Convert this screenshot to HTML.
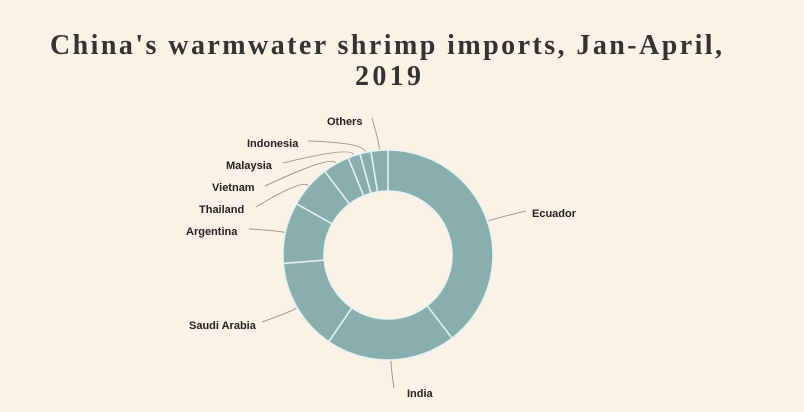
<!DOCTYPE html>
<html><head><meta charset="utf-8"><style>
body{margin:0;background:#fcf1e7;}
svg{display:block}
.t{font-family:"Liberation Serif",serif;font-weight:bold;font-size:28px;fill:#333}
.l{font-family:"Liberation Sans",sans-serif;font-weight:bold;font-size:11px;fill:#222}
</style></head><body>
<svg width="804" height="412" xmlns="http://www.w3.org/2000/svg">
<rect width="804" height="412" fill="#fcf1e7"/>
<text class="t" x="50" y="54" textLength="672" lengthAdjust="spacing">China's warmwater shrimp imports, Jan-April,</text>
<text class="t" x="388" y="85" text-anchor="middle" textLength="66" lengthAdjust="spacing">2019</text>
<g id="slices"></g><g id="leaders"></g><g id="labels"></g>
</svg>
<script>
const categories=["Ecuador","India","Saudi Arabia","Argentina","Thailand","Vietnam","Malaysia","Indonesia","Others"];
const shares=[39.6,20.0,14.2,9.4,6.6,4.1,1.9,1.7,2.6];
// layout only: label text position [x,y,anchor] and leader start point
const labelPos=[[532,217,"start",526,211],[407,397,"start",394,388],[189,329,"start",262,322],[186,235,"start",249,229],[199,213,"start",256,207],[212,191,"start",265,186],[226,169,"start",283,163],[247,147,"start",308,141],[327,125,"start",372,118]];
const cx=388,cy=255,R=105,r=64,NS="http://www.w3.org/2000/svg";
const total=shares.reduce((a,b)=>a+b,0);
function pt(a,rad){return [cx+rad*Math.sin(a),cy-rad*Math.cos(a)];}
function s(p){return p[0].toFixed(2)+' '+p[1].toFixed(2);}
let acc=0;
const gs=document.getElementById('slices'),gl=document.getElementById('leaders'),gt=document.getElementById('labels');
shares.forEach((v,i)=>{
 const a0=acc/total*2*Math.PI;acc+=v;const a1=acc/total*2*Math.PI;
 const p0=pt(a0,R),p1=pt(a1,R),q1=pt(a1,r),q0=pt(a0,r);const big=(a1-a0)>Math.PI?1:0;
 const p=document.createElementNS(NS,'path');
 p.setAttribute('d',`M ${s(p0)} A ${R} ${R} 0 ${big} 1 ${s(p1)} L ${s(q1)} A ${r} ${r} 0 ${big} 0 ${s(q0)} Z`);
 p.setAttribute('fill','#88afae');p.setAttribute('stroke','#e6f3f2');p.setAttribute('stroke-width','1.5');
 
 
 gs.appendChild(p);
 const am=(a0+a1)/2,e=pt(am,R+1),m=pt(am,R+10),lp=labelPos[i];
 const ln=document.createElementNS(NS,'path');
 ln.setAttribute('d',`M ${lp[3]} ${lp[4]} Q ${s(m)} ${s(e)}`);
 ln.setAttribute('fill','none');ln.setAttribute('stroke','#9a9a90');ln.setAttribute('stroke-width','1');
 
 
 gl.appendChild(ln);
 const t=document.createElementNS(NS,'text');
 t.setAttribute('x',lp[0]);t.setAttribute('y',lp[1]);t.setAttribute('text-anchor',lp[2]);t.setAttribute('class','l');
 t.textContent=categories[i];
 
 
 gt.appendChild(t);
});
</script>
</body></html>
